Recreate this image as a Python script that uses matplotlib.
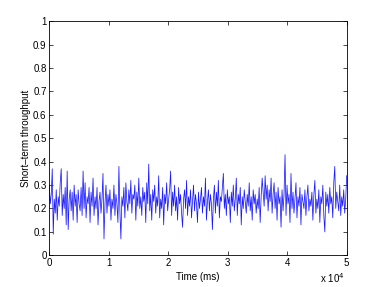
import numpy as np
import matplotlib
matplotlib.use("Agg")
import matplotlib.pyplot as plt

plt.rcParams['font.family'] = ['Liberation Sans', 'DejaVu Sans']

# short-term throughput samples (0..50000 ms)
throughput = [
    0.30, 0.22, 0.26, 0.37, 0.09, 0.24, 0.18, 0.28, 0.15, 0.25, 0.21, 0.31, 0.37, 0.17, 0.26, 0.20, 0.29, 0.13, 0.36, 0.11,
    0.24, 0.28, 0.19, 0.27, 0.15, 0.30, 0.21, 0.26, 0.14, 0.28, 0.22, 0.19, 0.29, 0.17, 0.36, 0.20, 0.31, 0.16, 0.25, 0.22,
    0.29, 0.14, 0.27, 0.21, 0.33, 0.17, 0.25, 0.20, 0.29, 0.13, 0.23, 0.27, 0.18, 0.24, 0.35, 0.07, 0.22, 0.30, 0.18, 0.26,
    0.21, 0.28, 0.15, 0.24, 0.20, 0.30, 0.17, 0.26, 0.22, 0.14, 0.38, 0.19, 0.07, 0.25, 0.21, 0.29, 0.16, 0.31, 0.23, 0.19,
    0.28, 0.22, 0.32, 0.18, 0.26, 0.24, 0.30, 0.15, 0.27, 0.21, 0.33, 0.20, 0.25, 0.17, 0.29, 0.23, 0.27, 0.14, 0.31, 0.22,
    0.39, 0.19, 0.26, 0.15, 0.28, 0.23, 0.30, 0.18, 0.25, 0.21, 0.34, 0.16, 0.24, 0.20, 0.29, 0.13, 0.26, 0.22, 0.31, 0.19,
    0.24, 0.28, 0.36, 0.17, 0.27, 0.21, 0.30, 0.19, 0.25, 0.15, 0.29, 0.22, 0.26, 0.18, 0.12, 0.24, 0.28, 0.20, 0.32, 0.17,
    0.25, 0.21, 0.28, 0.16, 0.23, 0.30, 0.19, 0.26, 0.22, 0.14, 0.27, 0.20, 0.24, 0.29, 0.18, 0.25, 0.21, 0.33, 0.15, 0.23,
    0.28, 0.19, 0.26, 0.22, 0.11, 0.24, 0.30, 0.18, 0.27, 0.21, 0.32, 0.16, 0.25, 0.23, 0.29, 0.35, 0.20, 0.26, 0.17, 0.28,
    0.22, 0.25, 0.14, 0.27, 0.21, 0.30, 0.19, 0.24, 0.33, 0.17, 0.26, 0.22, 0.29, 0.13, 0.25, 0.20, 0.28, 0.23, 0.18, 0.26,
    0.21, 0.31, 0.19, 0.25, 0.15, 0.28, 0.22, 0.26, 0.18, 0.24, 0.20, 0.29, 0.14, 0.25, 0.33, 0.27, 0.21, 0.34, 0.24, 0.30,
    0.19, 0.28, 0.23, 0.33, 0.18, 0.26, 0.31, 0.20, 0.27, 0.15, 0.29, 0.22, 0.25, 0.12, 0.28, 0.19, 0.26, 0.43, 0.17, 0.30,
    0.22, 0.26, 0.14, 0.35, 0.20, 0.27, 0.18, 0.24, 0.31, 0.16, 0.25, 0.21, 0.29, 0.13, 0.26, 0.23, 0.20, 0.28, 0.17, 0.25,
    0.30, 0.19, 0.24, 0.21, 0.27, 0.15, 0.26, 0.32, 0.18, 0.24, 0.20, 0.28, 0.14, 0.25, 0.22, 0.30, 0.17, 0.10, 0.27, 0.21,
    0.26, 0.18, 0.29, 0.22, 0.25, 0.16, 0.31, 0.38, 0.20, 0.27, 0.23, 0.19, 0.30, 0.17, 0.25, 0.21, 0.28, 0.18, 0.24, 0.34,
]
t_end = 50000  # ms
time_ms = np.arange(len(throughput)) * t_end / (len(throughput) - 1)

x_ticks = [0, 10000, 20000, 30000, 40000, 50000]
x_labels = ['0', '1', '2', '3', '4', '5']
y_ticks = [0, 0.1, 0.2, 0.3, 0.4, 0.5, 0.6, 0.7, 0.8, 0.9, 1]
y_labels = ['0', '0.1', '0.2', '0.3', '0.4', '0.5', '0.6', '0.7', '0.8', '0.9', '1']

fig = plt.figure(figsize=(3.82, 2.87), dpi=100)
ax = fig.add_axes([0.129, 0.1105, 0.7786, 0.8153])

ax.plot(time_ms, throughput, color='#1a1aff', linewidth=0.55)

ax.set_xlim(0, t_end)
ax.set_ylim(0, 1)
ax.set_xticks(x_ticks)
ax.set_xticklabels(x_labels)
ax.set_yticks(y_ticks)
ax.set_yticklabels(y_labels)
ax.tick_params(direction='in', length=3, width=0.5, labelsize=7, pad=2,
               top=True, right=True)
for s in ax.spines.values():
    s.set_linewidth(0.6)

ax.set_xlabel('Time (ms)', fontsize=7, labelpad=3)
ax.set_ylabel('Short\u2013term throughput', fontsize=7, labelpad=1.5)
fig.text(0.903, 0.008, 'x 10$^{4}$', fontsize=7, ha='right', va='bottom')

fig.savefig('out.png', dpi=100)
